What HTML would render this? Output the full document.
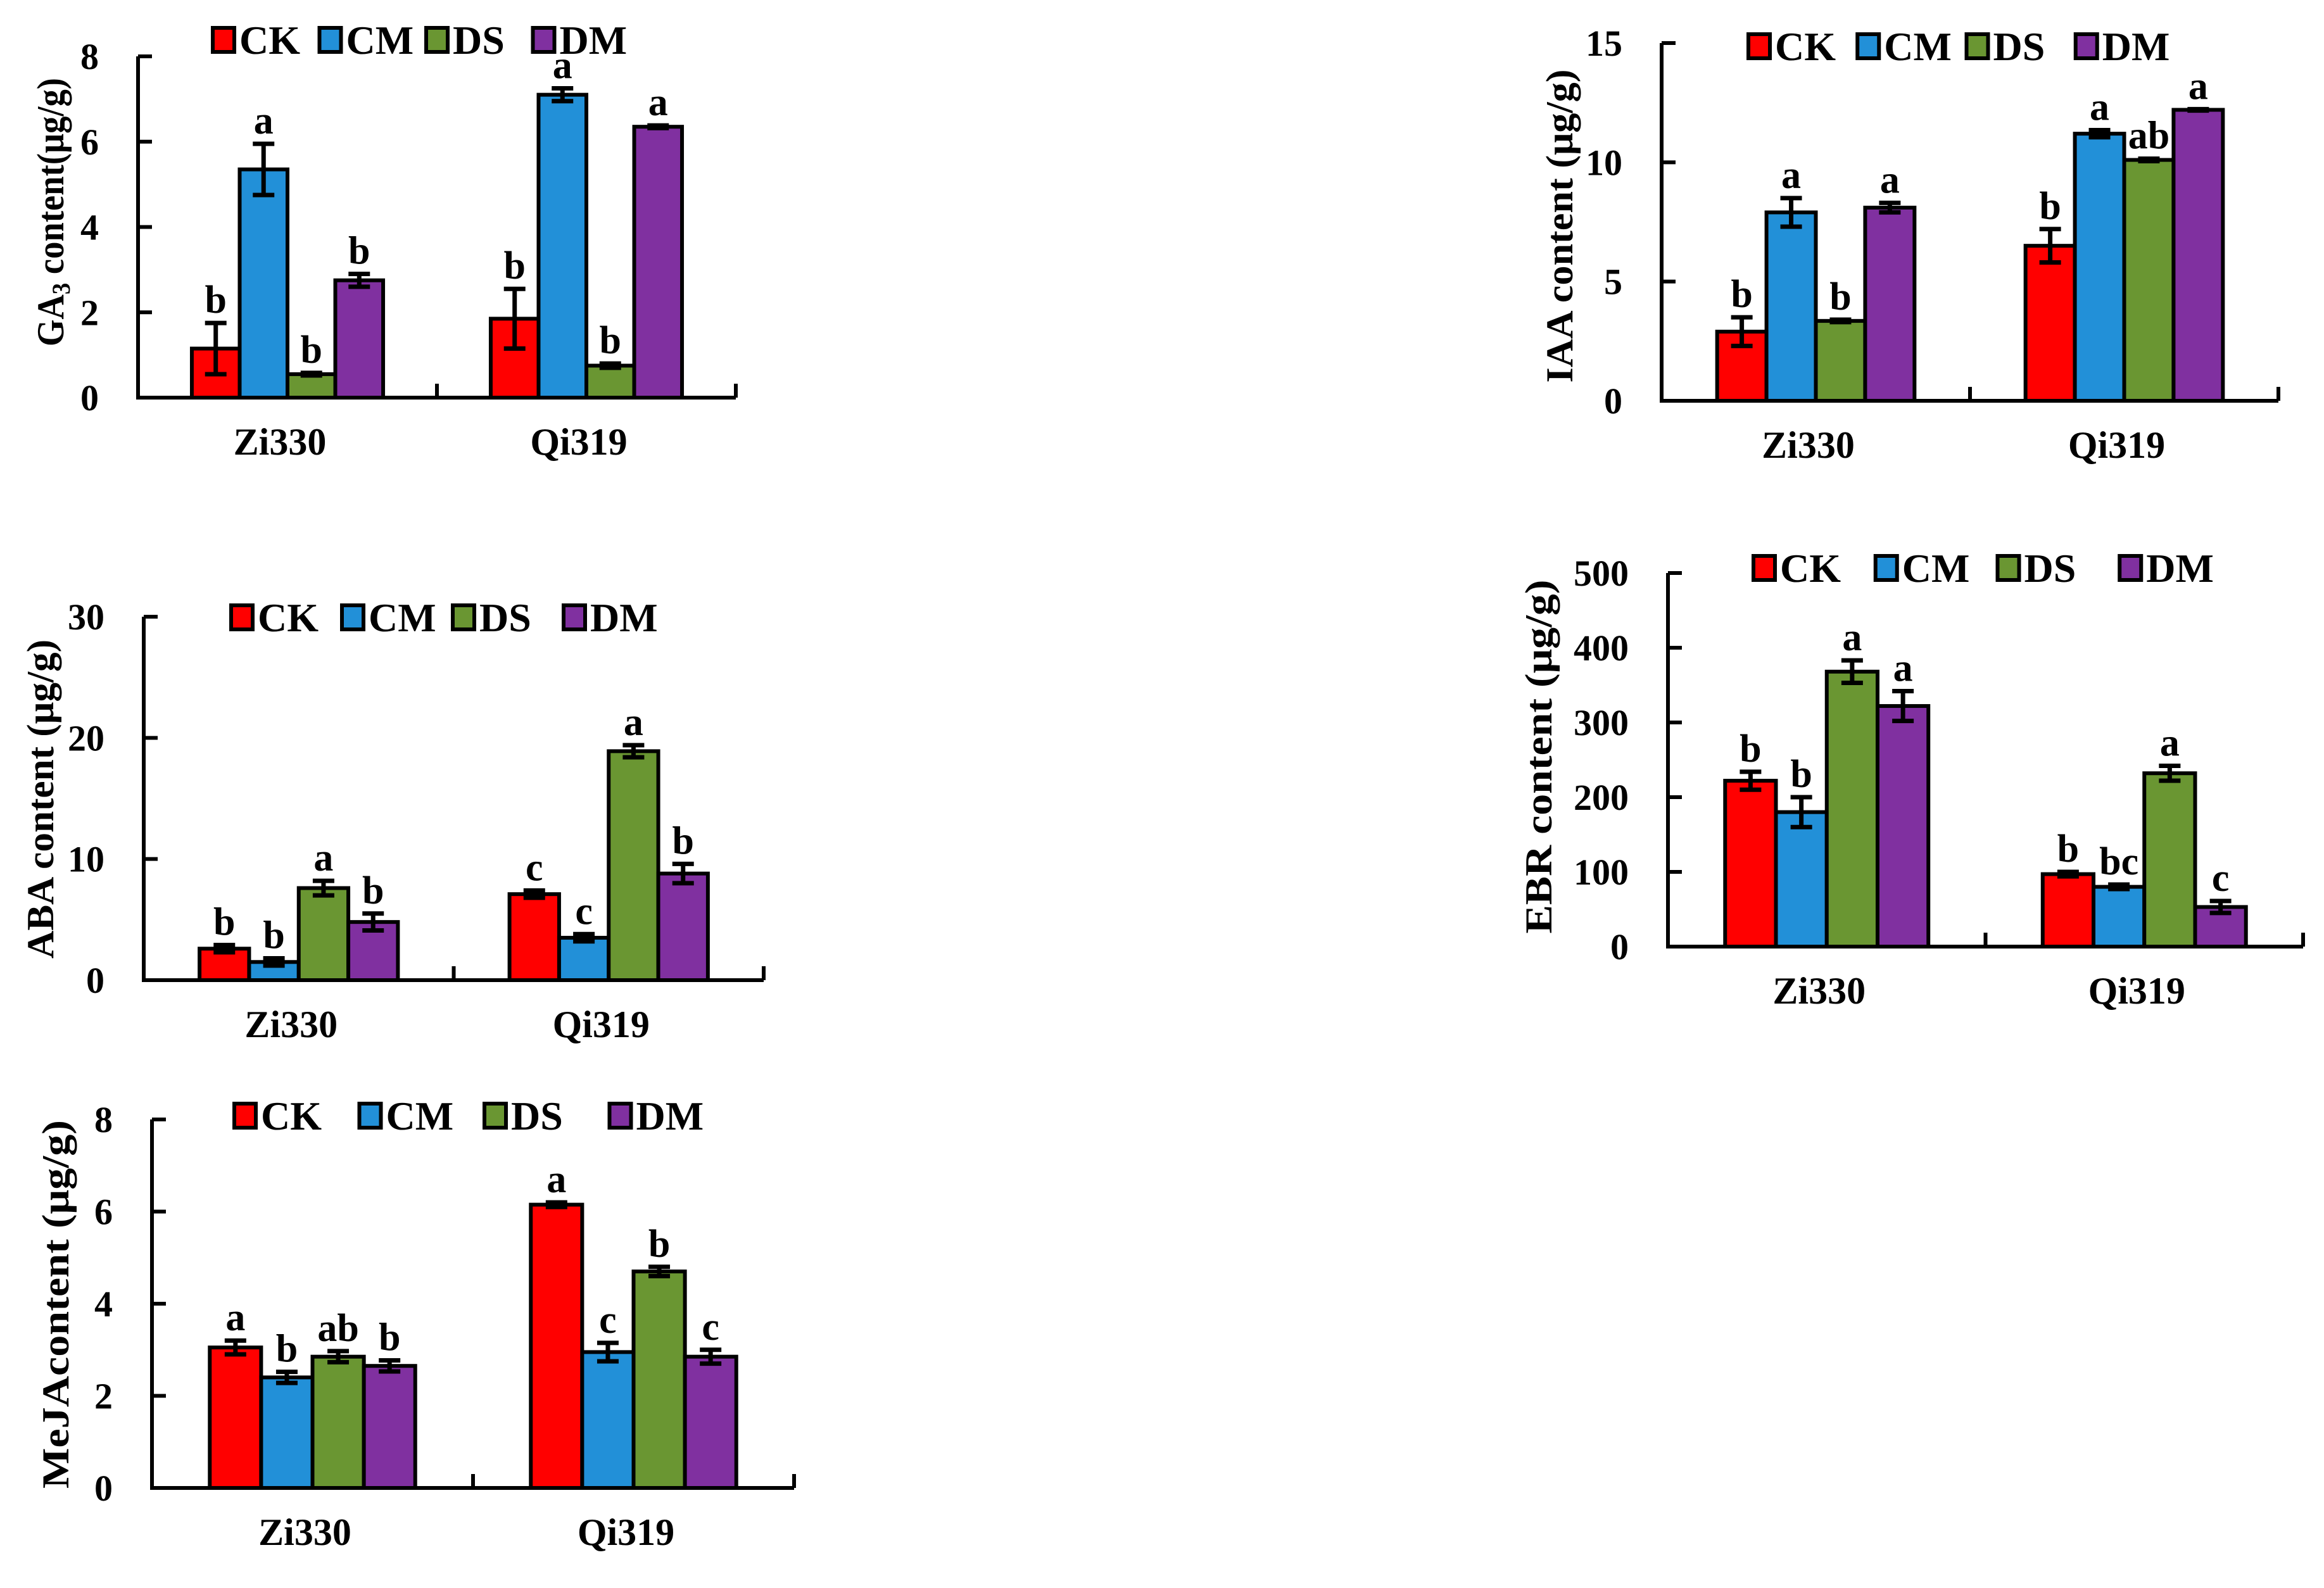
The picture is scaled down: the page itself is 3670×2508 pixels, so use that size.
<!DOCTYPE html>
<html><head><meta charset="utf-8"><style>
html,body{margin:0;padding:0;background:#fff;}
svg, svg text{font-family:"Liberation Serif","Times New Roman",serif;font-weight:bold;}
</style></head><body>
<svg id="fig" width="3670" height="2503" viewBox="0 0 3670 2503" xmlns="http://www.w3.org/2000/svg" font-family="Liberation Serif, serif" font-weight="bold"></svg>
<script>
const categories = ["Zi330","Qi319"];
const seriesNames = ["CK","CM","DS","DM"];
const colors = ["#ff0000","#2290d8","#6a9632","#8030a0"];

const gaValues = [[1.15,5.35,0.55,2.75],[1.85,7.1,0.75,6.35]];
const gaErrors = [[0.6,0.6,0.03,0.15],[0.7,0.15,0.05,0.03]];
const gaLetters = [["b","a","b","b"],["b","a","b","a"]];
const gaTicks = [0,2,4,6,8];

const iaaValues = [[2.9,7.9,3.35,8.1],[6.5,11.2,10.1,12.2]];
const iaaErrors = [[0.6,0.6,0.05,0.2],[0.7,0.15,0.05,0.03]];
const iaaLetters = [["b","a","b","a"],["b","a","ab","a"]];
const iaaTicks = [0,5,10,15];

const abaValues = [[2.6,1.5,7.6,4.8],[7.1,3.5,18.9,8.8]];
const abaErrors = [[0.3,0.3,0.6,0.7],[0.3,0.3,0.5,0.8]];
const abaLetters = [["b","b","a","b"],["c","c","a","b"]];
const abaTicks = [0,10,20,30];

const ebrValues = [[222,180,368,322],[97,80,232,53]];
const ebrErrors = [[12,20,15,20],[3,3,10,8]];
const ebrLetters = [["b","b","a","a"],["b","bc","a","c"]];
const ebrTicks = [0,100,200,300,400,500];

const mejaValues = [[3.05,2.4,2.85,2.65],[6.15,2.95,4.7,2.85]];
const mejaErrors = [[0.15,0.12,0.12,0.12],[0.05,0.2,0.1,0.15]];
const mejaLetters = [["a","b","ab","b"],["a","c","b","c"]];
const mejaTicks = [0,2,4,6,8];

const NS="http://www.w3.org/2000/svg";
const svg=document.getElementById('fig');
const FF="Liberation Serif, Times New Roman, serif";
function mk(tag,attrs,parent){const e=document.createElementNS(NS,tag);for(const k in attrs)e.setAttribute(k,attrs[k]);if(tag==='text'){e.setAttribute('font-family',FF);e.setAttribute('font-weight','bold');}(parent||svg).appendChild(e);return e;}

function drawChart(cfg){
  const g=mk('g',{});
  
  
  const max=cfg.ticks[cfg.ticks.length-1];
  const y=v=>cfg.yb-(v/max)*(cfg.yb-cfg.yt);
  const catW=(cfg.ar-cfg.ax)/categories.length;
  const bw=catW*0.16, off=catW*0.18;
  categories.forEach((c,ci)=>{
    seriesNames.forEach((s,si)=>{
      const v=cfg.values[ci][si], e=cfg.errors[ci][si];
      const x=cfg.ax+ci*catW+off+si*bw;
      const r=mk('rect',{x:x,y:y(v),width:bw,height:cfg.yb-y(v),fill:colors[si],stroke:'#000','stroke-width':6},g);
      
      
      const cx=x+bw/2, cw=17;
      const eb=mk('path',{d:`M${cx},${y(v+e)}V${y(v-e)}M${cx-cw},${y(v+e)}H${cx+cw}M${cx-cw},${y(v-e)}H${cx+cw}`,stroke:'#000','stroke-width':7,fill:'none'},g);
      
      
      const t=mk('text',{x:cx,y:y(v+e)-16,'text-anchor':'middle','font-size':62},g);
      t.textContent=cfg.letters[ci][si];
      
      
    });
    const ct=mk('text',{x:cfg.ax+(ci+0.5)*catW-12,y:cfg.yb+90,'text-anchor':'middle','font-size':60},g);
    ct.textContent=c;
    
    
  });
  const ax=mk('path',{d:`M${cfg.ax},${cfg.yt}V${cfg.yb}H${cfg.ar}`,stroke:'#000','stroke-width':6,fill:'none'},g);
  
  
  cfg.ticks.forEach(tv=>{
    mk('line',{x1:cfg.ax,x2:cfg.ax+22,y1:y(tv),y2:y(tv),stroke:'#000','stroke-width':6},g);
    const tl=mk('text',{x:cfg.ax-62,y:y(tv)+20,'text-anchor':'end','font-size':58},g);
    tl.textContent=tv;
    
    
  });
  for(let i=1;i<=categories.length;i++){
    const xx=cfg.ax+i*catW;
    mk('line',{x1:xx,x2:xx,y1:cfg.yb,y2:cfg.yb-22,stroke:'#000','stroke-width':6},g);
  }
  const tt=mk('text',{x:0,y:0,'text-anchor':'middle','font-size':60,transform:`translate(${cfg.tx+20},${cfg.tc}) rotate(-90)`,textLength:cfg.tlen,lengthAdjust:'spacingAndGlyphs'},g);
  
  
  if(cfg.sub){
    tt.appendChild(document.createTextNode('GA'));
    const ts=document.createElementNS(NS,'tspan');ts.setAttribute('font-size','40');ts.setAttribute('dy','10');ts.textContent='3';tt.appendChild(ts);
    const ts2=document.createElementNS(NS,'tspan');ts2.setAttribute('dy','-10');ts2.textContent=' content(μg/g)';tt.appendChild(ts2);
  } else tt.textContent=cfg.title;
  const lg=mk('g',{},g);
  
  
  const step=(cfg.lx1-cfg.lx0)/4;
  seriesNames.forEach((s,si)=>{
    const lx=cfg.lx0+si*step;
    const it=mk('g',{},lg);
    
    
    mk('rect',{x:lx,y:cfg.ly-19,width:34,height:38,fill:colors[si],stroke:'#000','stroke-width':6},it);
    const lt=mk('text',{x:lx+42,y:cfg.ly+22,'font-size':64},it);
    lt.textContent=s;
  });
}

drawChart({name:'ga3',values:gaValues,errors:gaErrors,letters:gaLetters,ticks:gaTicks,ax:218,ar:1162,yt:89,yb:628,tx:80,tc:335,tlen:424,sub:true,lx0:336,lx1:1010,ly:63});
drawChart({name:'iaa',values:iaaValues,errors:iaaErrors,letters:iaaLetters,ticks:iaaTicks,ax:2624,ar:3598,yt:68,yb:633,tx:2463,tc:357,tlen:495,title:'IAA content (μg/g)',lx0:2761,lx1:3450,ly:73});
drawChart({name:'aba',values:abaValues,errors:abaErrors,letters:abaLetters,ticks:abaTicks,ax:227,ar:1206,yt:974,yb:1548,tx:64,tc:1262,tlen:504,title:'ABA content (μg/g)',lx0:365,lx1:1065,ly:975});
drawChart({name:'ebr',values:ebrValues,errors:ebrErrors,letters:ebrLetters,ticks:ebrTicks,ax:2634,ar:3637,yt:905,yb:1495,tx:2430,tc:1195,tlen:559,title:'EBR content (μg/g)',lx0:2769,lx1:3540,ly:897});
drawChart({name:'meja',values:mejaValues,errors:mejaErrors,letters:mejaLetters,ticks:mejaTicks,ax:240,ar:1254,yt:1768,yb:2350,tx:88,tc:2060,tlen:582,title:'MeJAcontent (μg/g)',lx0:370,lx1:1160,ly:1762});
</script>
</body></html>
